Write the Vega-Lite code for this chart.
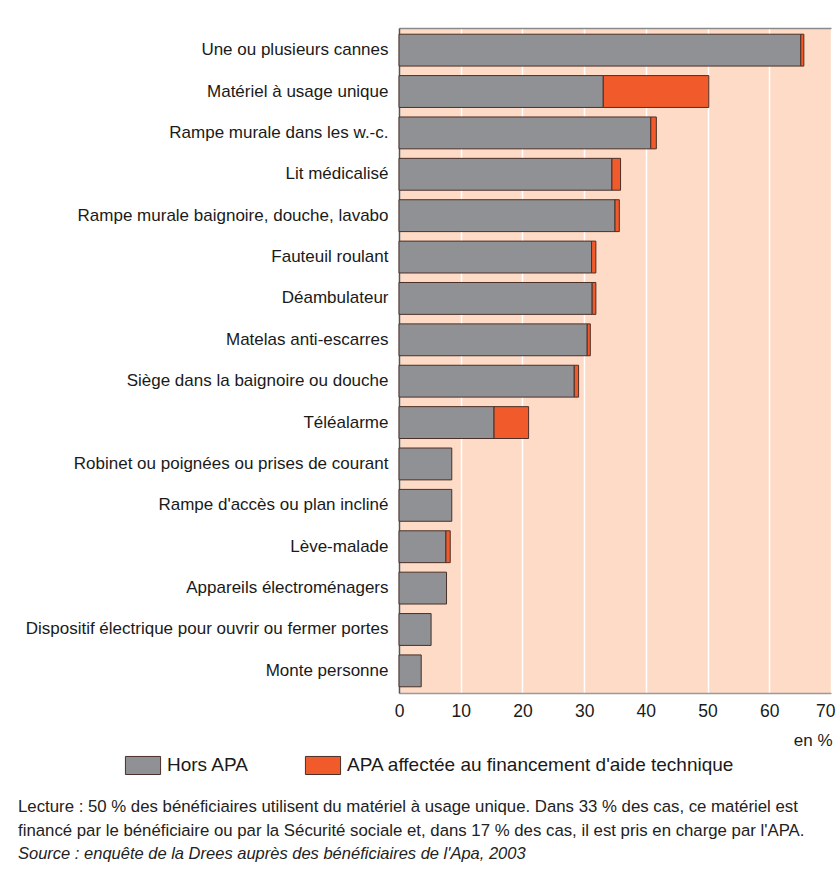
{
  "$schema": "https://vega.github.io/schema/vega-lite/v6.json",
  "width": 432,
  "height": 665,
  "autosize": "none",
  "padding": {"left": 399, "top": 28, "right": 6, "bottom": 185},
  "background": "white",
  "data": {
    "values": [
      {"item": "Une ou plusieurs cannes", "cat": "Hors APA", "k": 1, "v": 65.1},
      {"item": "Une ou plusieurs cannes", "cat": "APA affectée au financement d'aide technique", "k": 2, "v": 0.5},
      {"item": "Matériel à usage unique", "cat": "Hors APA", "k": 1, "v": 33.1},
      {"item": "Matériel à usage unique", "cat": "APA affectée au financement d'aide technique", "k": 2, "v": 17.1},
      {"item": "Rampe murale dans les w.-c.", "cat": "Hors APA", "k": 1, "v": 40.8},
      {"item": "Rampe murale dans les w.-c.", "cat": "APA affectée au financement d'aide technique", "k": 2, "v": 0.9},
      {"item": "Lit médicalisé", "cat": "Hors APA", "k": 1, "v": 34.5},
      {"item": "Lit médicalisé", "cat": "APA affectée au financement d'aide technique", "k": 2, "v": 1.4},
      {"item": "Rampe murale baignoire, douche, lavabo", "cat": "Hors APA", "k": 1, "v": 35.0},
      {"item": "Rampe murale baignoire, douche, lavabo", "cat": "APA affectée au financement d'aide technique", "k": 2, "v": 0.7},
      {"item": "Fauteuil roulant", "cat": "Hors APA", "k": 1, "v": 31.2},
      {"item": "Fauteuil roulant", "cat": "APA affectée au financement d'aide technique", "k": 2, "v": 0.7},
      {"item": "Déambulateur", "cat": "Hors APA", "k": 1, "v": 31.3},
      {"item": "Déambulateur", "cat": "APA affectée au financement d'aide technique", "k": 2, "v": 0.6},
      {"item": "Matelas anti-escarres", "cat": "Hors APA", "k": 1, "v": 30.5},
      {"item": "Matelas anti-escarres", "cat": "APA affectée au financement d'aide technique", "k": 2, "v": 0.5},
      {"item": "Siège dans la baignoire ou douche", "cat": "Hors APA", "k": 1, "v": 28.4},
      {"item": "Siège dans la baignoire ou douche", "cat": "APA affectée au financement d'aide technique", "k": 2, "v": 0.7},
      {"item": "Téléalarme", "cat": "Hors APA", "k": 1, "v": 15.4},
      {"item": "Téléalarme", "cat": "APA affectée au financement d'aide technique", "k": 2, "v": 5.6},
      {"item": "Robinet ou poignées ou prises de courant", "cat": "Hors APA", "k": 1, "v": 8.55},
      {"item": "Rampe d'accès ou plan incliné", "cat": "Hors APA", "k": 1, "v": 8.55},
      {"item": "Lève-malade", "cat": "Hors APA", "k": 1, "v": 7.6},
      {"item": "Lève-malade", "cat": "APA affectée au financement d'aide technique", "k": 2, "v": 0.7},
      {"item": "Appareils électroménagers", "cat": "Hors APA", "k": 1, "v": 7.7},
      {"item": "Dispositif électrique pour ouvrir ou fermer portes", "cat": "Hors APA", "k": 1, "v": 5.2},
      {"item": "Monte personne", "cat": "Hors APA", "k": 1, "v": 3.6}
    ]
  },
  "title": {
    "text": [
      "Lecture : 50 % des bénéficiaires utilisent du matériel à usage unique. Dans 33 % des cas, ce matériel est",
      "financé par le bénéficiaire ou par la Sécurité sociale et, dans 17 % des cas, il est pris en charge par l'APA."
    ],
    "subtitle": "Source : enquête de la Drees auprès des bénéficiaires de l'Apa, 2003",
    "orient": "bottom",
    "anchor": "start",
    "frame": "group",
    "offset": 22,
    "dx": -381,
    "font": "Liberation Sans",
    "fontSize": 16.8,
    "fontWeight": "normal",
    "color": "#222222",
    "lineHeight": 24,
    "subtitleFont": "Liberation Sans",
    "subtitleFontSize": 16.5,
    "subtitleFontStyle": "italic",
    "subtitleColor": "#222222",
    "subtitlePadding": 6
  },
  "layer": [
    {
      "mark": {"type": "bar", "stroke": "#4a3028", "strokeWidth": 1},
      "encoding": {
        "y": {
          "field": "item",
          "type": "nominal",
          "sort": null,
          "scale": {"paddingInner": 0.23, "paddingOuter": 0.15},
          "axis": {
            "title": null,
            "ticks": false,
            "labelPadding": 11,
            "labelFont": "Liberation Sans",
            "labelFontSize": 17,
            "labelColor": "#1a1a1a",
            "labelLimit": 400,
            "domainColor": "#555555",
            "domainWidth": 1.5,
            "grid": false
          }
        },
        "x": {
          "field": "v",
          "type": "quantitative",
          "aggregate": "sum",
          "stack": "zero",
          "scale": {"domain": [0, 70], "nice": false},
          "axis": {
            "values": [0, 10, 20, 30, 40, 50, 60, 70],
            "title": "en %",
            "titleAnchor": "end",
            "titleAlign": "right",
            "titleBaseline": "middle",
            "titleY": 47,
            "titleX": 433,
            "titleFont": "Liberation Sans",
            "titleFontSize": 17,
            "titleFontWeight": "normal",
            "titleColor": "#1a1a1a",
            "labelFont": "Liberation Sans",
            "labelFontSize": 17.5,
            "labelColor": "#1a1a1a",
            "labelPadding": 9,
            "labelFlush": false,
            "labelAlign": {"expr": "datum.value >= 70 ? 'right' : 'center'"},
            "labelOffset": {"expr": "datum.value >= 70 ? 4 : 0"},
            "ticks": false,
            "domainColor": "#9a9a9a",
            "domainWidth": 1.5,
            "grid": true,
            "gridColor": "#ffffff",
            "gridWidth": 1.5
          }
        },
        "color": {
          "field": "cat",
          "type": "nominal",
          "scale": {
            "domain": ["Hors APA", "APA affectée au financement d'aide technique"],
            "range": ["#8f9194", "#f15a2a"]
          },
          "legend": {
            "title": null,
            "orient": "none",
            "direction": "horizontal",
            "legendX": -266,
            "legendY": 727,
            "symbolType": "M-1.85,-0.95H1.85V0.95H-1.85Z",
            "symbolSize": 361,
            "symbolStrokeColor": "#4a3028",
            "symbolStrokeWidth": 1,
            "symbolOpacity": 1,
            "labelOffset": 14,
            "labelFont": "Liberation Sans",
            "labelFontSize": 19,
            "labelColor": "#1a1a1a",
            "labelLimit": 500,
            "columnPadding": 53
          }
        },
        "order": {"field": "k", "type": "quantitative"}
      }
    },
    {
      "mark": {"type": "rule", "opacity": 0},
      "encoding": {
        "x": {
          "datum": 0,
          "type": "quantitative",
          "axis": {
            "orient": "top",
            "title": null,
            "labels": false,
            "ticks": false,
            "grid": false,
            "domainColor": "#8a8a8a",
            "domainWidth": 1.5
          }
        }
      }
    }
  ],
  "resolve": {"axis": {"x": "independent"}},
  "config": {
    "view": {"fill": "#fddbc6", "stroke": null}
  }
}
